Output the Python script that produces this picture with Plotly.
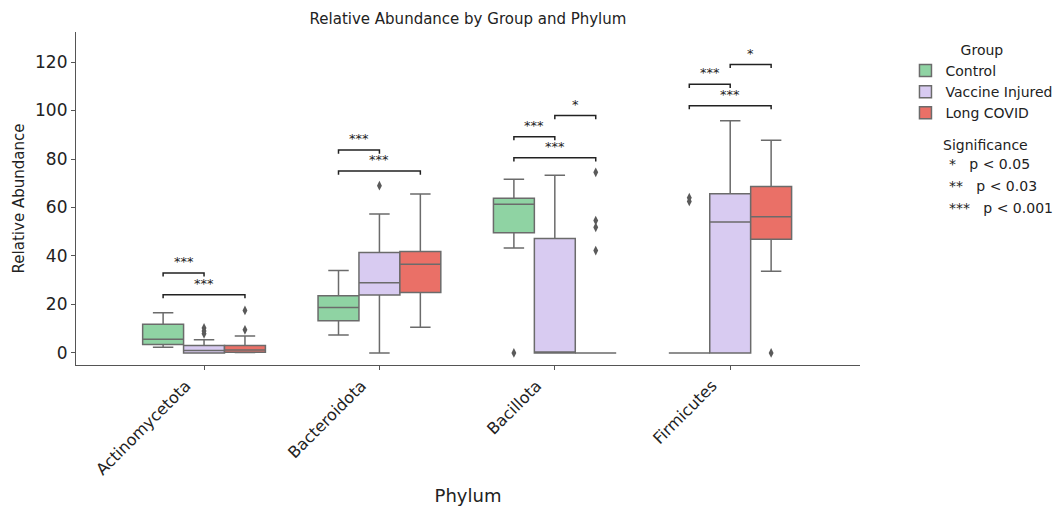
import plotly.graph_objects as go

phyla = ["Actinomycetota", "Bacteroidota", "Bacillota", "Firmicutes"]
groups = ["Control", "Vaccine Injured", "Long COVID"]
colors = ["#8fd3a3", "#d8cbf1", "#ea7067"]

# box statistics per group, ordered by phyla
q1 = {
    "Control":         [3.5, 13.3, 49.6, 0.0],
    "Vaccine Injured": [0.0, 23.9, 0.0, 0.0],
    "Long COVID":      [0.3, 24.9, 0.0, 46.9],
}
median = {
    "Control":         [5.6, 18.7, 61.3, 0.0],
    "Vaccine Injured": [1.0, 28.9, 0.0, 54.0],
    "Long COVID":      [1.2, 36.6, 0.0, 56.2],
}
q3 = {
    "Control":         [11.8, 23.6, 63.8, 0.0],
    "Vaccine Injured": [3.0, 41.4, 47.2, 65.7],
    "Long COVID":      [3.0, 41.8, 0.0, 68.6],
}
lowerfence = {
    "Control":         [2.3, 7.4, 43.3, 0.0],
    "Vaccine Injured": [0.0, 0.0, 0.0, 0.0],
    "Long COVID":      [0.2, 10.6, 0.0, 33.7],
}
upperfence = {
    "Control":         [16.6, 34.0, 71.6, 0.0],
    "Vaccine Injured": [5.4, 57.3, 73.3, 95.8],
    "Long COVID":      [7.0, 65.6, 0.0, 87.7],
}
# outliers: (phylum, value)
outliers = {
    "Control":         [("Bacillota", 0.0), ("Firmicutes", 64.0), ("Firmicutes", 62.5)],
    "Vaccine Injured": [("Actinomycetota", 10.3), ("Actinomycetota", 9.0),
                        ("Actinomycetota", 7.9), ("Bacteroidota", 69.0)],
    "Long COVID":      [("Actinomycetota", 17.5), ("Actinomycetota", 9.5),
                        ("Bacillota", 74.5), ("Bacillota", 54.6),
                        ("Bacillota", 51.8), ("Bacillota", 42.2),
                        ("Firmicutes", 0.0)],
}
# significance brackets: (phylum index, group a, group b, height, label)
brackets = [
    (0, 0, 1, 33.0, "***"),
    (0, 0, 2, 24.0, "***"),
    (1, 0, 1, 83.7, "***"),
    (1, 0, 2, 75.0, "***"),
    (2, 1, 2, 97.9, "*"),
    (2, 0, 1, 89.2, "***"),
    (2, 0, 2, 80.5, "***"),
    (3, 1, 2, 119.0, "*"),
    (3, 0, 1, 110.8, "***"),
    (3, 0, 2, 102.0, "***"),
]
sig_lines = [("*", "p < 0.05"), ("**", "p < 0.03"), ("***", "p < 0.001")]

LINE = "#6b6b6b"
BOXGAP = 0.3
FONT = "DejaVu Sans"

fig = go.Figure()
for g, c in zip(groups, colors):
    fig.add_trace(go.Box(
        x=phyla, q1=q1[g], median=median[g], q3=q3[g],
        lowerfence=lowerfence[g], upperfence=upperfence[g],
        name=g, offsetgroup=g, alignmentgroup="a",
        fillcolor=c, line=dict(color=LINE, width=1.5),
        whiskerwidth=0.5, boxpoints=False, hoverinfo="skip",
    ))
for g in groups:
    fig.add_trace(go.Scatter(
        x=[p for p, v in outliers[g]], y=[v for p, v in outliers[g]],
        mode="markers", offsetgroup=g, alignmentgroup="a",
        marker=dict(symbol="diamond-tall", size=7, color="#5a5a5a"),
        showlegend=False, hoverinfo="skip",
    ))

# brackets
bw = (1 - BOXGAP) / len(groups)
def center(pi, gi):
    return pi + (gi - (len(groups) - 1) / 2) * bw

shapes = []
annotations = []
for pi, ga, gb, h, lab in brackets:
    xa, xb = center(pi, ga), center(pi, gb)
    shapes.append(dict(type="path", xref="x", yref="y",
                       path=f"M {xa},{h-1.5} L {xa},{h} L {xb},{h} L {xb},{h-1.5}",
                       line=dict(color="#222222", width=1.5)))
    annotations.append(dict(x=(xa + xb) / 2, y=h + 0.8, xref="x", yref="y",
                            text=lab, showarrow=False, yanchor="bottom",
                            font=dict(family=FONT, size=13, color="#222222")))

annotations.append(dict(x=1.16, y=0.66, xref="paper", yref="paper",
                        text="Significance", showarrow=False, xanchor="center",
                        font=dict(family=FONT, size=14, color="#222222")))
for i, (s, t) in enumerate(sig_lines):
    annotations.append(dict(x=1.111, y=0.603 - i * 0.066, xref="paper", yref="paper",
                            text=s + "&nbsp;&nbsp;&nbsp;" + t, showarrow=False,
                            xanchor="left",
                            font=dict(family=FONT, size=14, color="#222222")))

fig.update_layout(
    width=1057, height=506,
    margin=dict(l=76, r=197, t=32, b=141, autoexpand=False),
    plot_bgcolor="white", paper_bgcolor="white",
    boxmode="group", boxgap=BOXGAP, boxgroupgap=0,
    scattermode="group", scattergap=BOXGAP,
    title=dict(text="Relative Abundance by Group and Phylum", x=(76 + 392) / 1057,
               xanchor="center", y=0.962, yanchor="middle",
               font=dict(family=FONT, size=15, color="#222222")),
    legend=dict(x=1.058, y=0.986, xanchor="left", yanchor="top",
                title=dict(text="Group", side="top center",
                           font=dict(family=FONT, size=14, color="#222222")),
                font=dict(family=FONT, size=14, color="#222222"),
                tracegroupgap=2),
    shapes=shapes, annotations=annotations,
    xaxis=dict(type="category", range=[-0.73, 3.74], showline=True,
               linecolor="#555555", linewidth=1.2, ticks="outside",
               ticklen=4, tickcolor="#555555", tickangle=-45,
               ticklabelshift=-18,
               tickfont=dict(family=FONT, size=16, color="#222222"),
               title=dict(text="Phylum", font=dict(family=FONT, size=18, color="#222222"),
                          standoff=12),
               showgrid=False, zeroline=False, automargin=False),
    yaxis=dict(range=[-5, 132.4], showline=True, linecolor="#555555", linewidth=1.2,
               ticks="outside", ticklen=4, tickcolor="#555555",
               tickvals=[0, 20, 40, 60, 80, 100, 120],
               tickfont=dict(family=FONT, size=17, color="#222222"),
               title=dict(text="Relative Abundance",
                          font=dict(family=FONT, size=15, color="#222222"),
                          standoff=6),
               showgrid=False, zeroline=False, automargin=False),
)

fig.write_html("out.html")
